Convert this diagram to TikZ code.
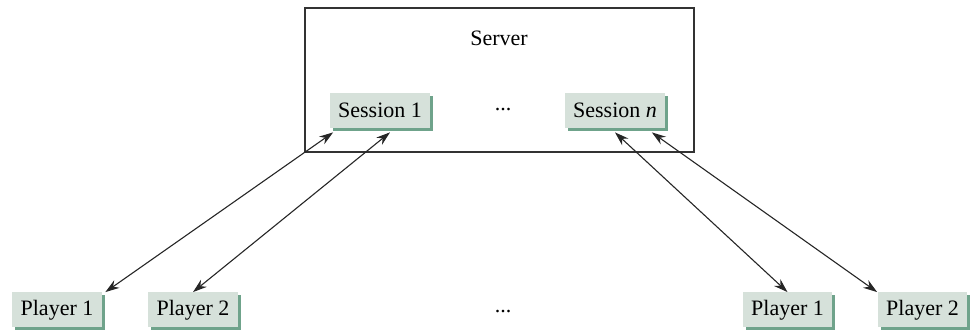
\documentclass[tikz,border=0pt]{standalone}
\usepackage{fontspec}
\setmainfont{Liberation Serif}
\usepackage{xcolor}
\definecolor{sage}{HTML}{D6E1DA}
\definecolor{moss}{HTML}{6FA38B}
\usepackage{tikz}
\usetikzlibrary{arrows.meta,positioning,calc,shadows}
\tikzset{
  >={Stealth[length=7pt,width=4.6pt]},
  sess/.style   ={fill=sage,minimum height=17.5pt,inner xsep=4.3pt,
                  font=\fontsize{11}{13}\selectfont,
                  drop shadow={shadow xshift=1.5pt,shadow yshift=-1.5pt,
                               fill=moss,opacity=1}},
  srvbox/.style ={draw=black!80,line width=0.6pt,minimum width=194.5pt,
                  minimum height=72pt},
  lbl/.style    ={font=\fontsize{11}{13}\selectfont,inner sep=1pt},
  link/.style   ={<->,draw=black!85,line width=0.55pt},
}
\begin{document}
\begin{tikzpicture}[x=0.5pt,y=-0.5pt]
\useasboundingbox (0,0) rectangle (971,330);
%---------------- server
\node[srvbox] (srv) at (499.5,80) {};
\node[lbl] (srvlbl) at (499,38) {Server};
\node[sess] (s1) at (380,110.5) {Session 1};
\node[lbl] (sdots) at (503,110) {...};
\node[sess] (sn) at (615,110.5) {Session \textit{n}};
%---------------- players
\node[sess] (p1) at (57,310) {Player 1};
\node[sess] (p2) at (193,310) {Player 2};
\node[lbl] (pdots) at (503,312) {...};
\node[sess] (p3) at (787.5,310) {Player 1};
\node[sess] (p4) at (922.5,310) {Player 2};
%---------------- links
\draw[link] ([xshift=2pt,yshift=-2pt]s1.south west) -- ([xshift=1.5pt]p1.north east);
\draw[link] ([xshift=5pt,yshift=-2pt]s1.south) -- (p2.north);
\draw[link] ([yshift=-2pt]sn.south) -- (p3.north);
\draw[link] ([xshift=-7pt,yshift=-2pt]sn.south east) -- (p4.north west);
\end{tikzpicture}
\end{document}
